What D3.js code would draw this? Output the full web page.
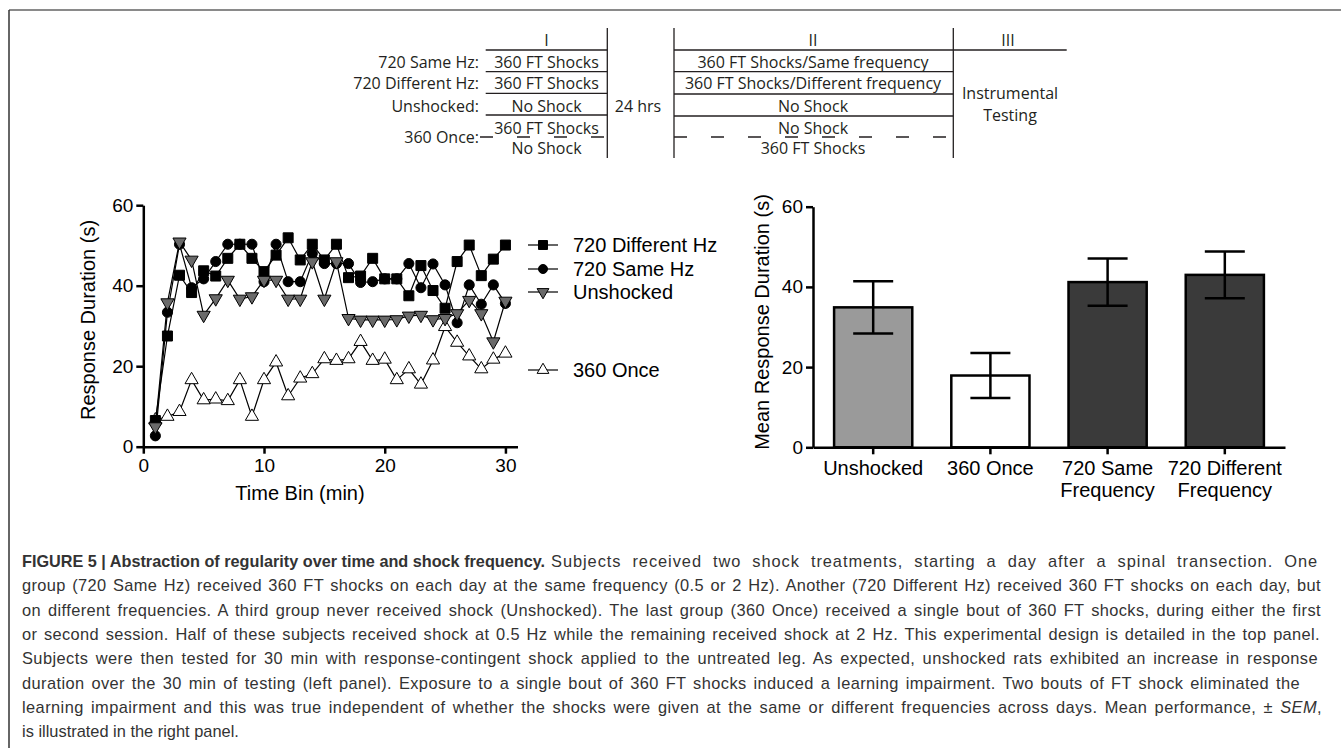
<!DOCTYPE html>
<html>
<head>
<meta charset="utf-8">
<title>figure 5</title>
<style>
  body { margin: 0; background: #fff; }
  svg text { font-family: "Liberation Sans", Arial, Helvetica, sans-serif; }
  .tbl text { font-family: "Open Sans", "Noto Sans", sans-serif; font-size: 16px; fill: #231f20; }
</style>
</head>
<body>
<div id="fig"></div>
<script src="https://d3js.org/d3.v7.min.js"></script>
<script>
// ---- data ----
var timeBins = [1,2,3,4,5,6,7,8,9,10,11,12,13,14,15,16,17,18,19,20,21,22,23,24,25,26,27,28,29,30];
var diffHz    = [6.5,27.5,42.6,38.3,43.7,42.4,46.8,50.3,46.8,43.5,47.6,51.9,46.4,50.3,46.4,50.3,42.0,42.4,46.8,41.7,41.7,37.5,45.0,38.8,34.4,46.0,50.1,42.5,46.6,50.1];
var sameHz    = [2.7,33.4,50.3,39.5,41.7,46.0,50.3,50.3,50.3,41.0,50.3,41.0,41.0,48.0,45.5,45.5,45.5,40.8,41.0,41.7,41.7,45.5,39.5,45.4,40.2,30.8,40.2,35.4,40.2,35.6];
var unshocked = [5.0,35.8,50.9,46.4,32.7,36.8,41.4,36.7,37.3,41.4,41.4,36.7,36.7,46.0,36.7,46.0,31.9,31.5,31.5,31.5,31.6,32.5,32.7,31.6,31.9,33.1,36.4,33.1,26.1,36.2];
var once360   = [6.6,7.5,8.7,16.6,11.6,11.8,11.4,16.6,7.5,16.6,21.0,12.6,17.0,18.1,21.8,21.4,21.8,26.1,21.4,21.7,16.6,19.3,15.5,21.5,29.8,25.9,22.5,19.3,21.7,23.2];
var seriesNames = ["720 Different Hz","720 Same Hz","Unshocked","360 Once"];
var lineTicksX = [0,10,20,30];
var ticksY = [0,20,40,60];

var barGroups = ["Unshocked","360 Once","720 Same Frequency","720 Different Frequency"];
var barLabelLines = [["Unshocked"],["360 Once"],["720 Same","Frequency"],["720 Different","Frequency"]];
var barMeans = [34.9,17.9,41.2,43.0];
var barSem   = [6.5,5.6,5.9,5.8];

// design table
var groupLabels = ["720 Same Hz:","720 Different Hz:","Unshocked:","360 Once:"];
var phaseHeads = ["I","II","III"];
var phaseI  = ["360 FT Shocks","360 FT Shocks","No Shock","360 FT Shocks","No Shock"];
var phaseII = ["360 FT Shocks/Same frequency","360 FT Shocks/Different frequency","No Shock","No Shock","360 FT Shocks"];
var phaseIII = ["Instrumental","Testing"];
var gapLabel = "24 hrs";

var captionTitle = "FIGURE 5 | Abstraction of regularity over time and shock frequency.";
var captionLines = [
  [["Subjects received two shock treatments, starting a day after a spinal transection. One",""]],
  [["group (720 Same Hz) received 360 FT shocks on each day at the same frequency (0.5 or 2 Hz). Another (720 Different Hz) received 360 FT shocks on each day, but",""]],
  [["on different frequencies. A third group never received shock (Unshocked). The last group (360 Once) received a single bout of 360 FT shocks, during either the first",""]],
  [["or second session. Half of these subjects received shock at 0.5 Hz while the remaining received shock at 2 Hz. This experimental design is detailed in the top panel.",""]],
  [["Subjects were then tested for 30 min with response-contingent shock applied to the untreated leg. As expected, unshocked rats exhibited an increase in response",""]],
  [["duration over the 30 min of testing (left panel). Exposure to a single bout of 360 FT shocks induced a learning impairment. Two bouts of FT shock eliminated the",""]],
  [["learning impairment and this was true independent of whether the shocks were given at the same or different frequencies across days. Mean performance, \u00b1 ",""],["SEM","i"],[",",""]],
  [["is illustrated in the right panel.",""]]
];
var captionStarts = [551,22,22,22,22,22,22,22];
var captionEnds = [1318,1321,1321,1320,1318,1300,1322,null];

// ---- svg ----
var W = 1341, H = 748;
var svg = d3.select("#fig").append("svg").attr("width", W).attr("height", H);

// frame
svg.append("line").attr("x1",9).attr("y1",10).attr("x2",W).attr("y2",10).attr("stroke","#8a8a8a").attr("stroke-width",2);
svg.append("line").attr("x1",9).attr("y1",10).attr("x2",9).attr("y2",H).attr("stroke","#333").attr("stroke-width",1.5);

// ---- design table ----
var tbl = svg.append("g").attr("class","tbl");
function hline(x1,x2,y,dash){
  var l = tbl.append("line").attr("x1",x1).attr("x2",x2).attr("y1",y).attr("y2",y)
    .attr("stroke","#231f20").attr("stroke-width",1.3);
  if(dash) l.attr("stroke-dasharray",dash);
}
function vline(x,y1,y2){
  tbl.append("line").attr("x1",x).attr("x2",x).attr("y1",y1).attr("y2",y2)
    .attr("stroke","#231f20").attr("stroke-width",1.3);
}
function ttext(x,y,t,anchor){
  tbl.append("text").attr("x",x).attr("y",y+5.5).attr("text-anchor",anchor||"middle").text(t);
}
var c1a = 485.7, c1b = 607.3, c2a = 674, c2b = 953.3, c3b = 1066.7;
vline(c1b,28,158); vline(c2a,28,158); vline(c2b,28,158);
hline(c1a,c1b,50); hline(c2a,c3b,50);
[71.7,93.3,115].forEach(function(y){ hline(c1a,c1b,y); });
[71.7,94,116].forEach(function(y){ hline(c2a,c2b,y); });
hline(480,c1b,137,"13,24");
hline(c2a,c2b,137,"13,24");
ttext((c1a+c1b)/2,40,phaseHeads[0]);
ttext(813,40,phaseHeads[1]);
ttext(1008,40,phaseHeads[2]);
var labelY = [62,83,106,137];
groupLabels.forEach(function(t,i){ ttext(479,labelY[i],t,"end"); });
var rowY = [62,83,106,128,148.5];
phaseI.forEach(function(t,i){ ttext((c1a+c1b)/2,rowY[i],t); });
phaseII.forEach(function(t,i){ ttext(813,rowY[i],t); });
ttext(638,106,gapLabel);
ttext(1010,93,phaseIII[0]);
ttext(1010,115,phaseIII[1]);

// ---- axis style helper ----
function styleAxis(g){
  g.selectAll("path,line").attr("stroke","#000").attr("stroke-width",2.5);
  g.selectAll("text").attr("font-size","19px").attr("fill","#000")
    .attr("font-family","'Liberation Sans', Arial, sans-serif");
}

// ---- left: line chart ----
var xL = d3.scaleLinear().domain([0,31]).range([143.3,517.5]);
var yL = d3.scaleLinear().domain([0,60]).range([446.7,205.2]);

svg.append("g").attr("transform","translate(0,"+yL(0)+")")
  .call(d3.axisBottom(xL).tickValues(lineTicksX).tickSize(7).tickPadding(5).tickSizeOuter(0))
  .call(styleAxis);
svg.append("g").attr("transform","translate("+xL(0)+",0)")
  .call(d3.axisLeft(yL).tickValues(ticksY).tickSize(7).tickPadding(3).tickSizeOuter(0))
  .call(styleAxis);

svg.append("text").attr("transform","translate(95,320) rotate(-90)")
  .attr("text-anchor","middle").attr("font-size","20px").text("Response Duration (s)");
svg.append("text").attr("x",300).attr("y",500)
  .attr("text-anchor","middle").attr("font-size","20px").text("Time Bin (min)");

var series = [
  {name: seriesNames[3], vals: once360,   sym: d3.symbolTriangle, size: 75, fill: "#fff", rot: 0},
  {name: seriesNames[1], vals: sameHz,    sym: d3.symbolCircle,   size: 80, fill: "#000", rot: 0},
  {name: seriesNames[0], vals: diffHz,    sym: d3.symbolSquare,   size: 100, fill: "#000", rot: 0},
  {name: seriesNames[2], vals: unshocked, sym: d3.symbolTriangle, size: 75, fill: "#6a6a6a", rot: 180}
];
var lineGen = d3.line().x(function(d){ return xL(d[0]); }).y(function(d){ return yL(d[1]); });

series.forEach(function(s){
  var pts = timeBins.map(function(t,i){ return [t, s.vals[i]]; });
  var g = svg.append("g");
  g.append("path").attr("d", lineGen(pts)).attr("fill","none").attr("stroke","#000").attr("stroke-width",1.2);
  g.selectAll("path.m").data(pts).enter().append("path").attr("class","m")
    .attr("d", d3.symbol().type(s.sym).size(s.size))
    .attr("transform", function(d){ return "translate("+xL(d[0])+","+yL(d[1])+") rotate("+s.rot+")"; })
    .attr("fill", s.fill).attr("stroke","#000").attr("stroke-width",1);
});

// legend
var legOrder = [2,1,3,0];
var legY = [245,269,292,370];
legOrder.forEach(function(si,i){
  var s = series[si];
  var g = svg.append("g").attr("transform","translate(0,"+legY[i]+")");
  g.append("line").attr("x1",528).attr("x2",558).attr("stroke","#000").attr("stroke-width",1.2);
  g.append("path").attr("d", d3.symbol().type(s.sym).size(s.size*0.8))
    .attr("transform","translate(543,0) rotate("+s.rot+")")
    .attr("fill", s.fill).attr("stroke","#000").attr("stroke-width",1);
  g.append("text").attr("x",573).attr("y",7).attr("font-size","20px").text(s.name);
});

// ---- right: bar chart ----
var xB = d3.scaleBand().domain(barGroups).range([813,1285]).paddingInner(0.333).paddingOuter(0.18);
var yB = d3.scaleLinear().domain([0,60]).range([447.3,206.7]);
var barFill = ["#9a9a9a","#ffffff","#3a3a3a","#3a3a3a"];

svg.append("g").selectAll("rect").data(barGroups).enter().append("rect")
  .attr("x", function(d){ return xB(d); })
  .attr("y", function(d,i){ return yB(barMeans[i]); })
  .attr("width", xB.bandwidth())
  .attr("height", function(d,i){ return yB(0) - yB(barMeans[i]); })
  .attr("fill", function(d,i){ return barFill[i]; })
  .attr("stroke","#000").attr("stroke-width",2.5);

var eb = svg.append("g").attr("stroke","#000").attr("stroke-width",2.5);
barGroups.forEach(function(d,i){
  var cx = xB(d) + xB.bandwidth()/2;
  var hi = yB(barMeans[i]+barSem[i]), lo = yB(barMeans[i]-barSem[i]);
  eb.append("line").attr("x1",cx).attr("x2",cx).attr("y1",hi).attr("y2",lo);
  eb.append("line").attr("x1",cx-20).attr("x2",cx+20).attr("y1",hi).attr("y2",hi);
  eb.append("line").attr("x1",cx-20).attr("x2",cx+20).attr("y1",lo).attr("y2",lo);
});

svg.append("g").attr("transform","translate(0,"+yB(0)+")")
  .call(d3.axisBottom(xB).tickSize(7).tickSizeOuter(0).tickFormat(""))
  .call(styleAxis);
svg.append("g").attr("transform","translate(813,0)")
  .call(d3.axisLeft(yB).tickValues(ticksY).tickSize(7).tickPadding(3).tickSizeOuter(0))
  .call(styleAxis);

barGroups.forEach(function(d,i){
  var cx = xB(d) + xB.bandwidth()/2;
  var t = svg.append("text").attr("text-anchor","middle").attr("font-size","20px");
  barLabelLines[i].forEach(function(line,j){
    t.append("tspan").attr("x",cx).attr("y",475 + j*22).text(line);
  });
});

svg.append("text").attr("transform","translate(769,322) rotate(-90)")
  .attr("text-anchor","middle").attr("font-size","20px").text("Mean Response Duration (s)");

// ---- caption (justified; big slack is shared between letters and word gaps) ----
var cap = svg.append("g").attr("fill","#333").attr("font-size","16.4px");
cap.append("text").attr("x",22).attr("y",567).attr("font-weight","bold")
  .attr("textLength",523).attr("lengthAdjust","spacingAndGlyphs").text(captionTitle);
captionLines.forEach(function(segs,i){
  var t = cap.append("text").attr("x",captionStarts[i]).attr("y",567 + i*24.3);
  var all = "";
  segs.forEach(function(s){
    var sp = t.append("tspan").text(s[0]);
    if(s[1]=="i") sp.attr("font-style","italic");
    all += s[0];
  });
  if(captionEnds[i]){
    var slack = (captionEnds[i]-captionStarts[i]) - t.node().getComputedTextLength();
    var n = (all.match(/ /g) || []).length;
    if(slack / n > 3){
      t.attr("letter-spacing", (slack*0.55) / all.length);
      t.attr("word-spacing", (slack*0.45) / n);
    } else {
      t.attr("word-spacing", slack / n);
    }
  }
});
</script>
</body>
</html>
